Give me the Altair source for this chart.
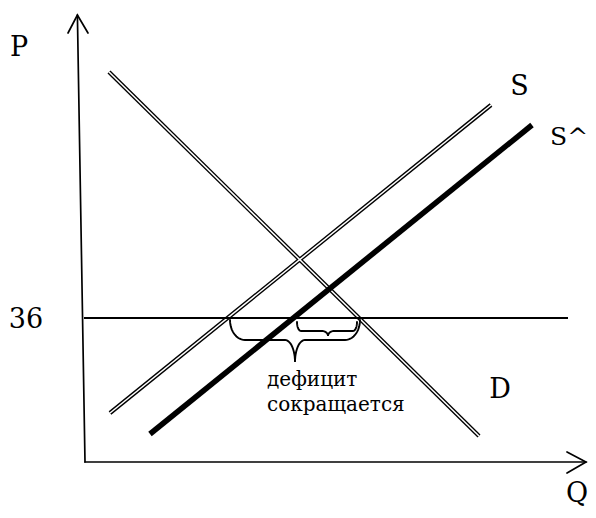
import altair as alt
import pandas as pd
import numpy as np

# ---- data (Q = quantity units, P = price units) ----
# demand D (double line)
D_Q = [6.0, 98.5]
D_P = [97.5, 6.5]
# supply S (double line)
S_Q = [6.25, 101.5]
S_P = [12.25, 89.25]
# shifted supply S^ (thick line)
S2_Q = [16.25, 111.75]
S2_P = [7.0, 84.25]
# fixed price level
PRICE = 36
PRICE_Q = [-0.25, 120.75]
# axes with arrow heads
YAXIS_Q = [0.0, -1.9]
YAXIS_P = [0.0, 111.75]
YARROW_Q = [-4.25, -1.9, 0.75]
YARROW_P = [107.25, 111.75, 107.25]
XAXIS_Q = [0.0, 125.25]
XAXIS_P = [0.0, 0.0]
XARROW_Q = [120.5, 125.25, 120.5]
XARROW_P = [2.5, 0.0, -2.75]
# braces: deficit before (big) and after (small)
BR_LEFT = [36.25, 53.0]
BR_RIGHT = [68.75, 68.0]
BR_TOP = [35.5, 35.0]
BR_BAR = [30.5, 32.75]
BR_TIP_Q = [52.5, 60.75]
BR_TIP_P = [25.0, 31.5]
# labels
LABELS = ["P", "36", "S", "D", "Q"]
LABEL_Q = [-16.5, -14.75, 108.6, 103.75, 123.0]
LABEL_P = [101.5, 33.5, 91.75, 16.0, -10.0]
S2_LABEL = ["S^"]
S2_LABEL_Q = [116.25]
S2_LABEL_P = [79.25]
NOTE = ["дефицит", "сокращается"]
NOTE_Q = [45.5, 45.5]
NOTE_P = [19.0, 12.75]

Q_DOMAIN = [-19.25, 125.75]
P_DOMAIN = [-12.0, 113.5]

xs = alt.Scale(domain=Q_DOMAIN, nice=False, zero=False)
ys = alt.Scale(domain=P_DOMAIN, nice=False, zero=False)
X = alt.X("Q:Q", scale=xs, axis=None)
Y = alt.Y("P:Q", scale=ys, axis=None)


def seg(name, qs, ps):
    return pd.DataFrame({"id": name, "Q": qs, "P": ps, "o": range(len(qs))})


double_df = pd.concat([seg("D", D_Q, D_P), seg("S", S_Q, S_P)])
s2_df = seg("S2", S2_Q, S2_P)
price_df = seg("price", PRICE_Q, [PRICE, PRICE])
axes_df = pd.concat([
    seg("yaxis", YAXIS_Q, YAXIS_P),
    seg("yarrow", YARROW_Q, YARROW_P),
    seg("xaxis", XAXIS_Q, XAXIS_P),
    seg("xarrow", XARROW_Q, XARROW_P),
])


def brace_points(x0, x1, top, bar, xm, tip, rx, rx2, n=14):
    t = np.linspace(0, np.pi / 2, n)
    h = top - bar
    h2 = bar - tip
    qs, ps = [], []
    qs += list(x0 + rx - rx * np.cos(t)); ps += list(top - h * np.sin(t))
    qs += list(xm - rx2 + rx2 * np.sin(t)); ps += list(tip + h2 * np.cos(t))
    qs += list(xm + rx2 - rx2 * np.cos(t)); ps += list(tip + h2 * np.sin(t))
    qs += list(x1 - rx + rx * np.sin(t)); ps += list(top - h * np.cos(t))
    return qs, ps


CURL = [3.75, 1.0]
TIPW = [2.5, 1.5]
brace_frames = []
for i in range(2):
    qs, ps = brace_points(BR_LEFT[i], BR_RIGHT[i], BR_TOP[i], BR_BAR[i],
                          BR_TIP_Q[i], BR_TIP_P[i], CURL[i], TIPW[i])
    brace_frames.append(seg(f"brace{i}", qs, ps))
brace_df = pd.concat(brace_frames)

label_df = pd.DataFrame({"t": LABELS, "Q": LABEL_Q, "P": LABEL_P})
s2_label_df = pd.DataFrame({"t": S2_LABEL, "Q": S2_LABEL_Q, "P": S2_LABEL_P})
note_df = pd.DataFrame({"t": NOTE, "Q": NOTE_Q, "P": NOTE_P})

FONT = "DejaVu Serif"


def lines(df, color, width, cap="butt"):
    return alt.Chart(df).mark_line(color=color, strokeWidth=width, strokeCap=cap,
                                   strokeJoin="miter").encode(
        x=X, y=Y, detail="id:N", order="o:Q")


layers = [
    lines(double_df, "black", 4.2),
    lines(double_df, "white", 1.5),
    lines(price_df, "black", 2.0),
    lines(s2_df, "black", 5.5),
    lines(axes_df, "black", 1.7, cap="round"),
    lines(brace_df, "black", 1.9, cap="round"),
    alt.Chart(label_df).mark_text(font=FONT, fontSize=27, color="black",
                                  align="center", baseline="alphabetic").encode(
        x=X, y=Y, text="t:N"),
    alt.Chart(s2_label_df).mark_text(font=FONT, fontSize=25, color="black",
                                     align="left", baseline="alphabetic").encode(
        x=X, y=Y, text="t:N"),
    alt.Chart(note_df).mark_text(font=FONT, fontSize=20, color="black",
                                 align="left", baseline="alphabetic").encode(
        x=X, y=Y, text="t:N"),
]

chart = alt.layer(*layers).properties(
    width=580, height=502, padding=0,
    autosize=alt.AutoSizeParams(type="none"),
    background="white",
).configure_view(stroke=None)

chart.save("out.html", embed_options={"renderer": "svg", "actions": False})
